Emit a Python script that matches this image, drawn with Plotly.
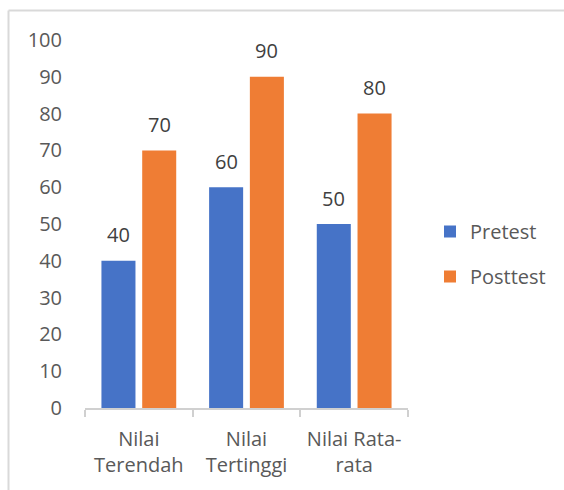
import plotly.graph_objects as go

categories = ["Nilai<br>Terendah", "Nilai<br>Tertinggi", "Nilai Rata-<br>rata"]
pretest = [40, 60, 50]
posttest = [70, 90, 80]
y_ticks = [0, 10, 20, 30, 40, 50, 60, 70, 80, 90, 100]

FONT = "Open Sans"
TXT = "#595959"
TXT_DARK = "#404040"
FS = 20

fig = go.Figure()
fig.add_trace(go.Bar(name="Pretest", x=categories, y=pretest, marker=dict(color="#4673C7", line=dict(width=0)), legendgroup="a"))
fig.add_trace(go.Bar(name="Posttest", x=categories, y=posttest, marker=dict(color="#EF7D34", line=dict(width=0)), legendgroup="b"))

# data labels above bars
off = 0.188
for i, (a, b) in enumerate(zip(pretest, posttest)):
    for xv, v in ((i - off, a), (i + off, b)):
        fig.add_annotation(x=xv, y=v, xref="x", yref="y", text=str(v), showarrow=False,
                           yanchor="middle", yshift=26, font=dict(family=FONT, size=FS, color=TXT_DARK))

L, R, T, B = 85, 156, 40, 82
W, H = 564, 490
pw, ph = W - L - R, H - T - B
bx = (8.5 - L) / pw
by = (H - B - 10.5) / ph
fig.add_shape(type="line", xref="paper", yref="paper", x0=bx, x1=bx, y0=-0.4, y1=by,
              line=dict(color="#D9D9D9", width=2))
fig.add_shape(type="line", xref="paper", yref="paper", x0=bx, x1=1.7, y0=by, y1=by,
              line=dict(color="#D9D9D9", width=2))

fig.update_layout(
    width=W, height=H,
    margin=dict(l=L, r=R, t=T, b=B, autoexpand=False),
    paper_bgcolor="white", plot_bgcolor="white",
    barmode="group", bargap=0.243, bargroupgap=0.165,
    font=dict(family=FONT, size=FS, color=TXT),
    showlegend=True,
    legend=dict(x=(430 - L) / pw, y=(H - B - 254) / ph, xanchor="left", yanchor="middle",
                traceorder="grouped", tracegroupgap=16,
                font=dict(family=FONT, size=FS, color=TXT)),
    xaxis=dict(type="category", showline=True, linecolor="#D0D0D0", linewidth=2,
               ticks="outside", tickson="boundaries", ticklen=7, tickcolor="#D0D0D0", tickwidth=2,
               ticklabelstandoff=12,
               tickfont=dict(family=FONT, size=FS, color=TXT), showgrid=False, fixedrange=True),
    yaxis=dict(range=[0, 100], tickvals=y_ticks, showgrid=False, showline=False, zeroline=False,
               ticks="", ticklabelstandoff=22, tickfont=dict(family=FONT, size=FS, color=TXT)),
)

fig.write_html("out.html")
